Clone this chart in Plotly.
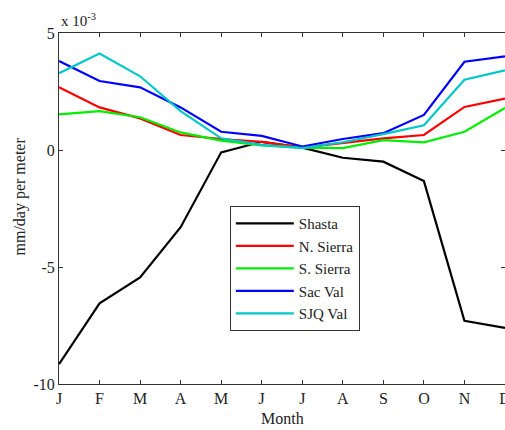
import plotly.graph_objects as go

months = ["J", "F", "M", "A", "M", "J", "J", "A", "S", "O", "N", "D"]
# values in units of 1e-3 mm/day per meter
shasta = [-9.15, -6.55, -5.45, -3.3, -0.1, 0.35, 0.1, -0.33, -0.5, -1.33, -7.3, -7.6]
n_sierra = [2.68, 1.82, 1.35, 0.64, 0.47, 0.35, 0.1, 0.3, 0.5, 0.64, 1.84, 2.2]
s_sierra = [1.52, 1.66, 1.4, 0.75, 0.4, 0.2, 0.1, 0.08, 0.42, 0.33, 0.78, 1.8]
sac_val = [3.8, 2.95, 2.68, 1.82, 0.78, 0.6, 0.15, 0.47, 0.72, 1.5, 3.77, 4.0]
sjq_val = [3.28, 4.12, 3.15, 1.66, 0.5, 0.22, 0.08, 0.33, 0.68, 1.06, 3.0, 3.4]

series_names = ["Shasta", "N. Sierra", "S. Sierra", "Sac Val", "SJQ Val"]
series_vals = [shasta, n_sierra, s_sierra, sac_val, sjq_val]
colors = ["#000000", "#ff0000", "#00ee00", "#0000ff", "#00c8c8"]

font = "Liberation Serif, Times New Roman, serif"
xs = list(range(len(months)))

fig = go.Figure()
for name, vals, c in zip(series_names, series_vals, colors):
    fig.add_trace(go.Scatter(x=xs, y=vals, mode="lines", name=name,
                             line=dict(color=c, width=2.2)))

axis_common = dict(showline=True, linecolor="#333333", linewidth=1, mirror="ticks",
                   ticks="inside", ticklen=4, tickcolor="#333333", showgrid=False,
                   zeroline=False, automargin=False, ticklabeloverflow="allow",
                   tickfont=dict(family=font, size=16, color="#222"))

fig.update_layout(
    width=505, height=430,
    margin=dict(l=59, r=0, t=33, b=46),
    paper_bgcolor="white", plot_bgcolor="white",
    font=dict(family=font, size=16, color="#222"),
    xaxis=dict(range=[0, 11], tickvals=xs, ticktext=months, **axis_common),
    yaxis=dict(range=[-10, 5], tickvals=[-10, -5, 0, 5], ticktext=["-10", "-5", "0", "5"],
               **axis_common),
    showlegend=True,
    legend=dict(x=0.383, y=0.507, xanchor="left", yanchor="top",
                bordercolor="#333333", borderwidth=1, bgcolor="white",
                font=dict(family=font, size=15, color="#222"),
                tracegroupgap=0, itemwidth=58),
    annotations=[
        dict(text="x 10<sup>-3</sup>", xref="paper", yref="paper", x=0.0, y=1.0,
             xanchor="left", yanchor="bottom", yshift=2, showarrow=False,
             font=dict(family=font, size=15, color="#222")),
        dict(text="mm/day per meter", xref="paper", yref="paper", x=0, y=0.5,
             xanchor="center", yanchor="middle", xshift=-40, yshift=12, textangle=-90,
             showarrow=False, font=dict(family=font, size=16, color="#222")),
        dict(text="Month", xref="paper", yref="paper", x=0.5, y=0,
             xanchor="center", yanchor="top", yshift=-24, showarrow=False,
             font=dict(family=font, size=16, color="#222")),
    ],
)

fig.write_html("out.html", config={"displayModeBar": False},
               post_script="document.body.style.margin='0';document.body.style.overflow='hidden';")
